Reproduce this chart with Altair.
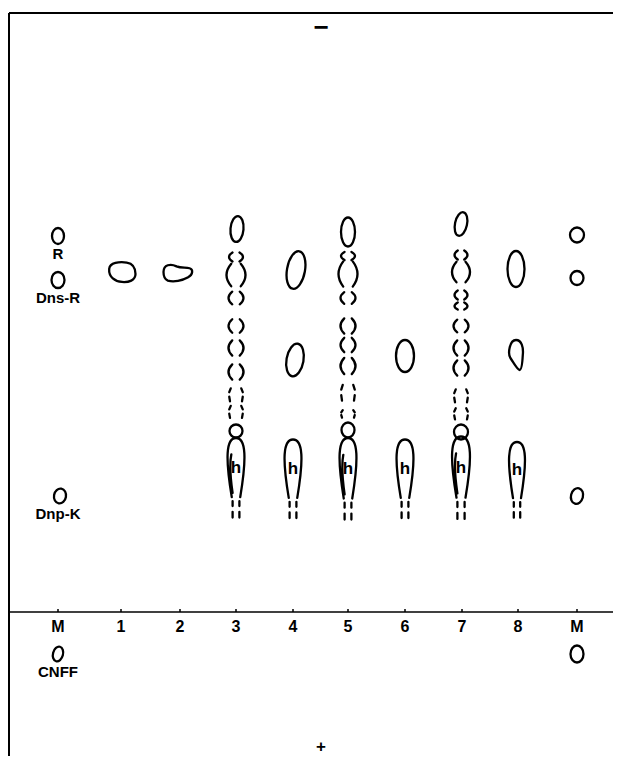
import altair as alt
import pandas as pd

# ---------------- data ----------------
# lanes along the origin line (track position, units from first marker lane)
lane_names = ["M", "1", "2", "3", "4", "5", "6", "7", "8", "M"]
lane_pos = [0, 63, 122, 178, 235, 290, 347, 404, 460, 519]

# spots: lane index, small offset in track, migration from origin, extent (width, length), outline type, tilt
spot_lane = [0, 0, 0, 0,
             1, 2,
             3, 3, 3, 3, 3, 3, 3, 3, 3, 3, 3,
             4, 4, 4,
             5, 5, 5, 5, 5, 5, 5, 5, 5, 5, 5,
             6, 6,
             7, 7, 7, 7, 7, 7, 7, 7, 7, 7, 7, 7,
             8, 8, 8,
             9, 9, 9, 9]
spot_dx = [0, 0, 2, 0,
           1, -2,
           1, 0, 0, 0, 0, 0, 0, 0, 0, 0, 0,
           3, 2, 0,
           0, 0, 0, 0, 0, 0, 0, 0, 0, 0, 0,
           0, 0,
           -1, -1, -1, -1, -1, -1, -1, -1, -1, -1, -1, -1,
           -2, -2, -1,
           0, 0, 0, 0]
spot_mob = [376, 332, 116, -42,
            340, 339,
            383, 355, 337, 314, 286, 264, 240, 217, 200, 181, 133,
            342, 252, 132,
            380, 356, 338, 314, 286, 267, 246, 219, 198, 182, 132,
            256, 132,
            388, 357, 340, 317, 306, 286, 264, 244, 216, 198, 180, 133,
            343, 257, 131,
            377, 334, 116, -42]
spot_wid = [12, 13, 12, 10,
            27, 29,
            13, 14, 19, 15, 15, 15, 15, 15, 15, 13, 17,
            18, 17, 17,
            14, 14, 19, 15, 15, 15, 15, 15, 15, 13, 17,
            18, 17,
            12, 13, 18, 13, 13, 15, 15, 15, 15, 15, 14, 18,
            17, 16, 16,
            14, 13, 12, 13]
spot_len = [16, 16, 15, 15,
            21, 19,
            26, 10, 25, 14, 15, 17, 17, 14, 13, 13, 82,
            38, 33, 81,
            29, 9, 28, 13, 17, 16, 18, 17, 8, 15, 84,
            32, 81,
            24, 10, 23, 10, 8, 14, 17, 17, 14, 12, 15, 85,
            36, 30, 78,
            15, 14, 16, 17]
spot_kind = ["ellipse", "ellipse", "ellipse", "ellipse",
             "blob", "kidney",
             "ellipse", "paren", "paren", "paren", "paren", "paren", "paren", "dash", "dash", "ellipse", "drop2",
             "ellipse", "ellipse", "drop",
             "ellipse", "paren", "paren", "paren", "paren", "paren", "paren", "dash", "dash", "ellipse", "drop2",
             "ellipse", "drop",
             "ellipse", "paren", "paren", "paren", "paren", "paren", "paren", "paren", "dash", "dash", "ellipse", "drop2",
             "ellipse", "pear", "drop",
             "ellipse", "ellipse", "ellipse", "ellipse"]
spot_tilt = [0, 0, 10, 15,
             0, 0,
             5, 0, 0, 0, 0, 0, 0, 0, 0, 0, 0,
             10, 10, 0,
             0, 0, 0, 0, 0, 0, 0, 0, 0, 0, 0,
             0, 0,
             12, 0, 0, 0, 0, 0, 0, 0, 0, 0, 0, 0,
             0, 0, 0,
             0, 0, 15, 0]

# reference markers in the M lane
marker_names = ["R", "Dns-R", "Dnp-K", "CNFF"]
marker_mob = [376, 332, 116, -42]

# plate extent and electrode signs
plate_left, plate_right, plate_top, plate_bottom = -49, 555, 599, -144
electrodes = ["−", "+"]
electrode_mob = [584, -135]
electrode_size = [26, 17]
electrode_pos = 263

# ---------------- outline glyphs ----------------
def fmt(v):
    return f"{v:.2f}"

def scaled(cmds, W, H):
    out = []
    for c, pts in cmds:
        out.append(c + " ".join(f"{fmt(x * W)},{fmt(y * H)}" for x, y in pts))
    return "".join(out)

BLOB = [("M", [(-0.95, -0.3)]),
        ("C", [(-0.9, -0.9), (-0.2, -1.0), (0.35, -0.9)]),
        ("C", [(0.85, -0.8), (1.0, -0.3), (1.0, 0.2)]),
        ("C", [(1.0, 0.8), (0.5, 1.0), (0.0, 0.95)]),
        ("C", [(-0.5, 0.9), (-1.0, 0.5), (-0.95, -0.3)]), ("Z", [])]
KIDNEY = [("M", [(-1.0, -0.1)]),
          ("C", [(-1.0, -0.9), (-0.5, -1.0), (-0.1, -0.7)]),
          ("C", [(0.2, -0.5), (0.5, -0.6), (0.8, -0.5)]),
          ("C", [(1.05, -0.4), (1.05, 0.2), (0.7, 0.45)]),
          ("C", [(0.3, 0.8), (-0.3, 1.0), (-0.7, 0.8)]),
          ("C", [(-0.95, 0.65), (-1.0, 0.3), (-1.0, -0.1)]), ("Z", [])]
PEAR = [("M", [(0.0, -1.0)]),
        ("C", [(0.7, -1.0), (0.95, -0.5), (0.85, 0.0)]),
        ("C", [(0.8, 0.5), (0.7, 1.0), (0.45, 1.0)]),
        ("C", [(0.2, 1.0), (-0.2, 0.6), (-0.7, 0.2)]),
        ("C", [(-1.05, -0.1), (-0.8, -1.0), (0.0, -1.0)]), ("Z", [])]


def spot_path(kind, w, h):
    W, H = w / 2, h / 2
    if kind == "ellipse":
        return (f"M0,{fmt(-H)}A{fmt(W)},{fmt(H)} 0 1,1 0,{fmt(H)}"
                f"A{fmt(W)},{fmt(H)} 0 1,1 0,{fmt(-H)}Z")
    if kind == "paren":
        return (f"M{fmt(-0.5*W)},{fmt(-0.9*H)}Q{fmt(-1.5*W)},0 {fmt(-0.5*W)},{fmt(0.9*H)}"
                f"M{fmt(0.5*W)},{fmt(-0.9*H)}Q{fmt(1.5*W)},0 {fmt(0.5*W)},{fmt(0.9*H)}")
    if kind == "dash":
        s = ""
        for sg in (-1, 1):
            s += (f"M{fmt(sg*0.7*W)},{fmt(-0.95*H)}L{fmt(sg*0.9*W)},{fmt(-0.4*H)}"
                  f"M{fmt(sg*0.9*W)},{fmt(0.25*H)}L{fmt(sg*0.8*W)},{fmt(0.9*H)}")
        return s
    if kind in ("drop", "drop2"):
        top = -H
        yb = -H + 0.72 * h
        s = (f"M{fmt(-0.5*W)},{fmt(yb)}C{fmt(-1.25*W)},{fmt(top+0.25*h)} {fmt(-1.2*W)},{fmt(top)} 0,{fmt(top)}"
             f"C{fmt(1.2*W)},{fmt(top)} {fmt(1.25*W)},{fmt(top+0.25*h)} {fmt(0.5*W)},{fmt(yb)}")
        for sg in (-1, 1):
            x = sg * 0.4 * W
            s += f"M{fmt(x)},{fmt(yb+0.05*h)}L{fmt(x)},{fmt(yb+0.11*h)}"
            s += f"M{fmt(x)},{fmt(yb+0.18*h)}L{fmt(x)},{fmt(yb+0.25*h)}"
        if kind == "drop2":
            s += (f"M{fmt(-0.4*W)},{fmt(yb-0.05*h)}Q{fmt(-0.85*W)},{fmt(top+0.35*h)} "
                  f"{fmt(-0.55*W)},{fmt(top+0.2*h)}")
        return s
    shape = {"blob": BLOB, "kidney": KIDNEY, "pear": PEAR}[kind]
    return scaled(shape, W, H)


spots = pd.DataFrame({
    "pos": [lane_pos[l] + d for l, d in zip(spot_lane, spot_dx)],
    "mob": spot_mob,
    "kind": spot_kind,
    "tilt": spot_tilt,
    "path": [spot_path(k, w, h) for k, w, h in zip(spot_kind, spot_wid, spot_len)],
})
lanes = pd.DataFrame({"pos": lane_pos, "name": lane_names})
markers = pd.DataFrame({"pos": [lane_pos[0]] * len(marker_names), "mob": marker_mob, "name": marker_names})
elec = pd.DataFrame({"pos": [electrode_pos] * 2, "mob": electrode_mob,
                     "sign": electrodes, "fs": electrode_size})

xs = alt.Scale(domain=[-50, 555], nice=False, zero=False)
ys = alt.Scale(domain=[-144, 604], nice=False, zero=False)
X = lambda f: alt.X(f, scale=xs, axis=None)
Y = lambda f: alt.Y(f, scale=ys, axis=None)
FONT = "Liberation Sans"

base = alt.Chart(pd.DataFrame({"a": [0]}))

top_line = base.mark_rule(color="black", strokeWidth=2).encode(
    x=alt.X(datum=plate_left, scale=xs, axis=None), x2=alt.X2(datum=plate_right),
    y=alt.Y(datum=plate_top, scale=ys, axis=None))
left_line = base.mark_rule(color="black", strokeWidth=2).encode(
    x=alt.X(datum=plate_left, scale=xs, axis=None),
    y=alt.Y(datum=plate_top, scale=ys, axis=None), y2=alt.Y2(datum=plate_bottom))
origin_line = base.mark_rule(color="black", strokeWidth=1.5).encode(
    x=alt.X(datum=plate_left, scale=xs, axis=None), x2=alt.X2(datum=plate_right),
    y=alt.Y(datum=0, scale=ys, axis=None))

ticks = alt.Chart(lanes).mark_rule(color="black", strokeWidth=1.5).encode(
    x=X("pos:Q"), y=alt.Y(datum=0, scale=ys, axis=None), y2=alt.Y2(datum=3))
lane_labels = alt.Chart(lanes).mark_text(
    font=FONT, fontSize=16, fontWeight="bold", baseline="middle", dy=15, color="black"
).encode(x=X("pos:Q"), y=alt.Y(datum=0, scale=ys, axis=None), text="name:N")

spot_layer = alt.Chart(spots).mark_point(
    filled=False, stroke="black", strokeWidth=2.3, opacity=1, size=4, strokeCap="round"
).encode(
    x=X("pos:Q"), y=Y("mob:Q"),
    shape=alt.Shape("path:N", scale=None),
    angle=alt.Angle("tilt:Q", scale=None),
)

h_labels = alt.Chart(spots).transform_filter(
    "datum.kind == 'drop' || datum.kind == 'drop2'"
).mark_text(font=FONT, fontSize=17, fontWeight="bold", dy=-11, baseline="middle", color="black").encode(
    x=X("pos:Q"), y=Y("mob:Q"), text=alt.value("h"))

marker_labels = alt.Chart(markers).mark_text(
    font=FONT, fontSize=15, fontWeight="bold", dy=18, baseline="middle", color="black"
).encode(x=X("pos:Q"), y=Y("mob:Q"), text="name:N")

elec_labels = alt.Chart(elec).mark_text(
    font=FONT, fontWeight="bold", baseline="middle", color="black"
).encode(x=X("pos:Q"), y=Y("mob:Q"), text="sign:N",
         size=alt.Size("fs:Q", scale=None))

chart = alt.layer(
    top_line, left_line, origin_line, ticks, lane_labels,
    spot_layer, h_labels, marker_labels, elec_labels
).properties(
    width=605, height=748, padding=0,
    autosize=alt.AutoSizeParams(type="none"),
    background="white",
).configure_view(stroke=None)

chart.save("out.html", embed_options={"renderer": "svg", "actions": False})
